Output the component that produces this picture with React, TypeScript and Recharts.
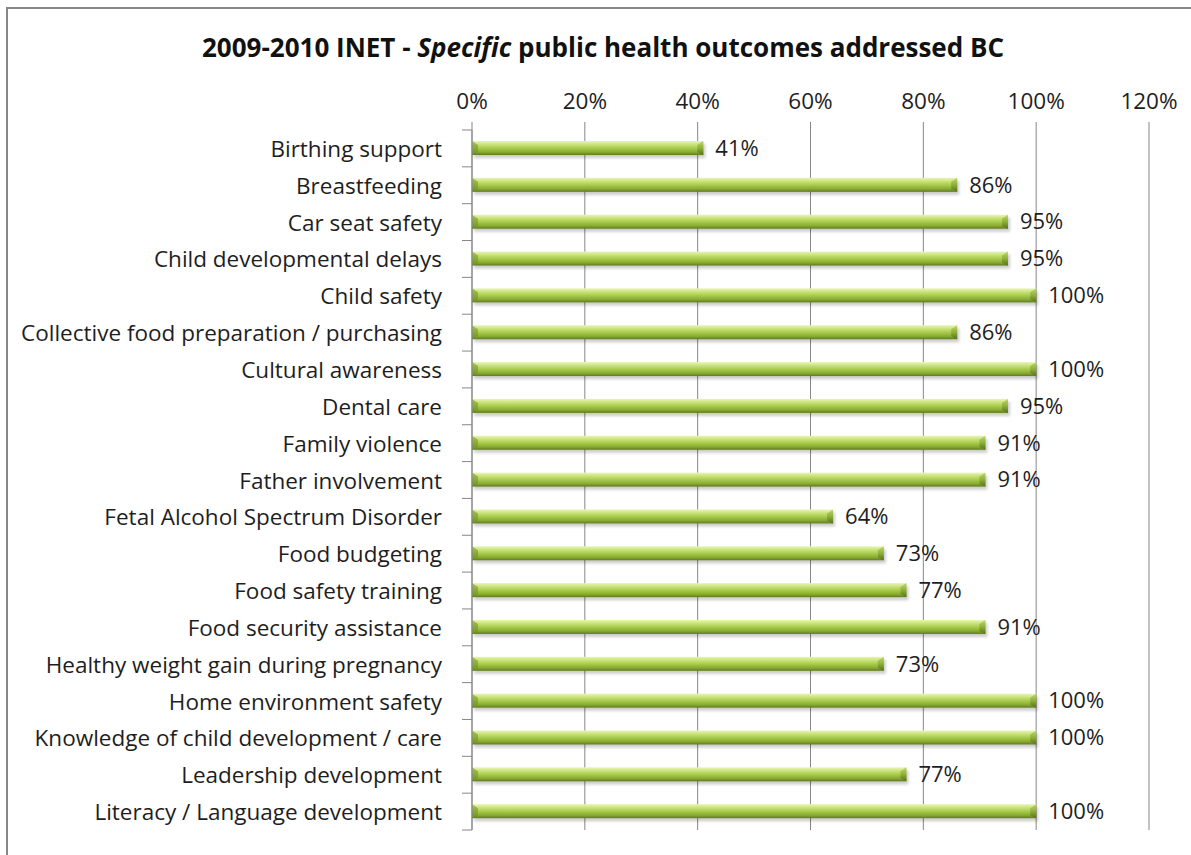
import React from 'react';
import { BarChart, Bar, XAxis, YAxis, CartesianGrid, LabelList } from 'recharts';

const categories = [
  'Birthing support',
  'Breastfeeding',
  'Car seat safety',
  'Child developmental delays',
  'Child safety',
  'Collective food preparation / purchasing',
  'Cultural awareness',
  'Dental care',
  'Family violence',
  'Father involvement',
  'Fetal Alcohol Spectrum Disorder',
  'Food budgeting',
  'Food safety training',
  'Food security assistance',
  'Healthy weight gain during pregnancy',
  'Home environment safety',
  'Knowledge of child development / care',
  'Leadership development',
  'Literacy / Language development',
];

const values = [41, 86, 95, 95, 100, 86, 100, 95, 91, 91, 64, 73, 77, 91, 73, 100, 100, 77, 100];

const xTicks = [0, 20, 40, 60, 80, 100, 120];

const data = categories.map((name, i) => ({ name, value: values[i] }));

const FONT = '"Open Sans", "Liberation Sans", sans-serif';
const GRID = '#878787';
const TEXT = '#1e1e1e';
const TICK_SIZE = 10;
const TICK_MARGIN = 20;

const YTick = (props: any) => {
  const { x, y, payload, index } = props;
  const off = payload && payload.offset ? payload.offset : 0;
  const axisX = x + TICK_SIZE + TICK_MARGIN;
  return (
    <g>
      <text
        x={x}
        y={y}
        textAnchor="end"
        dominantBaseline="central"
        fontFamily={FONT}
        fontSize={22.5}
        fill={TEXT}
      >
        {payload.value}
      </text>
      <line x1={axisX - TICK_SIZE} x2={axisX} y1={y - off} y2={y - off} stroke={GRID} strokeWidth={1} />
      {index === categories.length - 1 && (
        <line x1={axisX - TICK_SIZE} x2={axisX} y1={y + off} y2={y + off} stroke={GRID} strokeWidth={1} />
      )}
    </g>
  );
};

const BarShape = (props: any) => {
  const { x, y, width, height } = props;
  if (!width || width <= 0) return null;
  const b = 6;
  return (
    <g>
      <rect x={x + 2} y={y + 3} width={width} height={height} fill="#000" opacity={0.2} filter="url(#barShadow)" />
      <rect x={x} y={y} width={width} height={height} fill="url(#barGrad)" />
      <polygon
        points={`${x},${y} ${x + b},${y + 4} ${x + b},${y + height - 3} ${x},${y + height}`}
        fill="#6f8f25"
        opacity={0.55}
      />
      <polygon
        points={`${x + width - b},${y + 4} ${x + width},${y} ${x + width},${y + height} ${x + width - b},${y + height - 3}`}
        fill="url(#barEnd)"
      />
    </g>
  );
};

export default function App() {
  return (
    <div
      style={{
        position: 'absolute',
        left: 0,
        top: 0,
        width: 1191,
        height: 855,
        overflow: 'hidden',
        background: '#fff',
      }}
    >
      <div
        style={{
          position: 'absolute',
          left: 6,
          top: 7,
          width: 1300,
          height: 1000,
          border: '2px solid #878787',
        }}
      />
      <div
        style={{
          position: 'absolute',
          left: 0,
          top: 29,
          width: 1206,
          textAlign: 'center',
          fontFamily: FONT,
          fontWeight: 'bold',
          fontSize: 26,
          lineHeight: '36px',
          color: '#111',
          whiteSpace: 'nowrap',
        }}
      >
        2009-2010 INET - <i>Specific</i> public health outcomes addressed BC
      </div>
      <div style={{ position: 'absolute', left: 0, top: 0 }}>
        <BarChart
          width={1191}
          height={855}
          data={data}
          layout="vertical"
          margin={{ top: 100, right: 42, bottom: 25, left: 0 }}
        >
          <defs>
            <linearGradient id="barGrad" x1="0" y1="0" x2="0" y2="1">
              <stop offset="0%" stopColor="#e8f5b8" />
              <stop offset="20%" stopColor="#cfe784" />
              <stop offset="50%" stopColor="#aacc4e" />
              <stop offset="80%" stopColor="#87aa31" />
              <stop offset="100%" stopColor="#5f7b1f" />
            </linearGradient>
            <linearGradient id="barEnd" x1="0" y1="0" x2="0" y2="1">
              <stop offset="0%" stopColor="#bcd86a" />
              <stop offset="50%" stopColor="#8fb03a" />
              <stop offset="100%" stopColor="#55701a" />
            </linearGradient>
            <filter id="barShadow" x="-5%" y="-50%" width="110%" height="200%">
              <feGaussianBlur stdDeviation="1.5" />
            </filter>
          </defs>
          <CartesianGrid horizontal={false} vertical stroke={GRID} strokeWidth={1} />
          <XAxis
            type="number"
            orientation="top"
            domain={[0, 120]}
            ticks={xTicks}
            interval={0}
            tickFormatter={(v: number) => `${v}%`}
            axisLine={false}
            tickLine={{ stroke: GRID }}
            tickSize={8}
            tickMargin={13}
            height={30}
            tick={{ fontFamily: FONT, fontSize: 22.5, fill: TEXT }}
          />
          <YAxis
            type="category"
            dataKey="name"
            width={472}
            interval={0}
            axisLine={{ stroke: GRID }}
            tickLine={false}
            tickSize={TICK_SIZE}
            tickMargin={TICK_MARGIN}
            tick={<YTick />}
          />
          <Bar dataKey="value" barSize={14} shape={<BarShape />} isAnimationActive={false}>
            <LabelList
              dataKey="value"
              position="right"
              offset={12}
              formatter={(v: any) => `${v}%`}
              fontFamily={FONT}
              fontSize={22}
              fill={TEXT}
            />
          </Bar>
        </BarChart>
      </div>
    </div>
  );
}
